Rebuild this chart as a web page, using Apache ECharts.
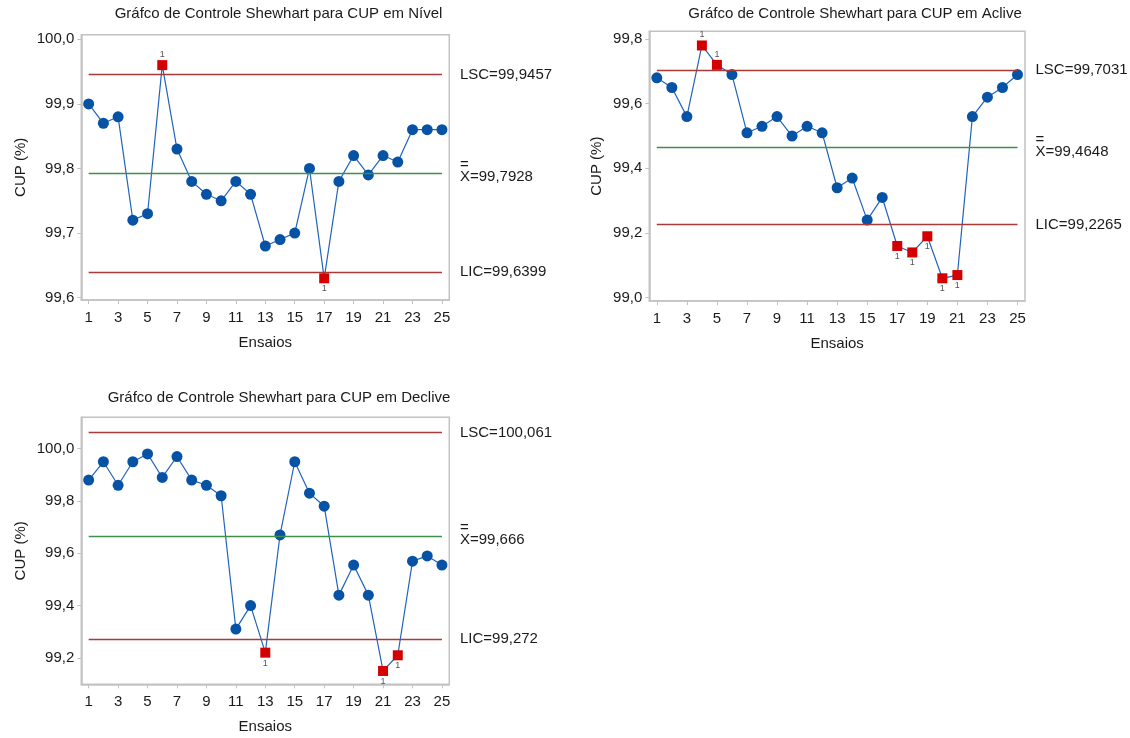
<!DOCTYPE html>
<html>
<head>
<meta charset="utf-8">
<script src="https://cdn.jsdelivr.net/npm/echarts@6/dist/echarts.min.js"></script>
<style>
  html, body { margin: 0; padding: 0; background: #fff; }
  #chart { width: 1130px; height: 738px; }
</style>
</head>
<body>
<div id="chart"></div>
<script>
// Ensaios (eixo x) e marcas exibidas
const ensaios = [1, 2, 3, 4, 5, 6, 7, 8, 9, 10, 11, 12, 13, 14, 15, 16, 17, 18, 19, 20, 21, 22, 23, 24, 25];
const ticksEnsaios = [1, 3, 5, 7, 9, 11, 13, 15, 17, 19, 21, 23, 25];

// CUP (%) por ensaio, em cada condição de terreno
const cupNivel = [99.90, 99.87, 99.88, 99.72, 99.73, 99.96, 99.83, 99.78, 99.76, 99.75, 99.78, 99.76, 99.68,
                  99.69, 99.70, 99.80, 99.63, 99.78, 99.82, 99.79, 99.82, 99.81, 99.86, 99.86, 99.86];
const cupAclive = [99.68, 99.65, 99.56, 99.78, 99.72, 99.69, 99.51, 99.53, 99.56, 99.50, 99.53, 99.51, 99.34,
                   99.37, 99.24, 99.31, 99.16, 99.14, 99.19, 99.06, 99.07, 99.56, 99.62, 99.65, 99.69];
const cupDeclive = [99.88, 99.95, 99.86, 99.95, 99.98, 99.89, 99.97, 99.88, 99.86, 99.82, 99.31, 99.40, 99.22,
                    99.67, 99.95, 99.83, 99.78, 99.44, 99.555, 99.44, 99.15, 99.21, 99.57, 99.59, 99.555];

// Limites de controle: [LSC, média, LIC]
const limitesNivel = [99.9457, 99.7928, 99.6399];
const limitesAclive = [99.7031, 99.4648, 99.2265];
const limitesDeclive = [100.061, 99.666, 99.272];

// Marcas do eixo y
const ticksNivel = [99.6, 99.7, 99.8, 99.9, 100.0];
const ticksAclive = [99.0, 99.2, 99.4, 99.6, 99.8];
const ticksDeclive = [99.2, 99.4, 99.6, 99.8, 100.0];

// Títulos
const titulos = [
  'Gráfco de Controle Shewhart para CUP em Nível',
  'Gráfco de Controle Shewhart para CUP em Aclive',
  'Gráfco de Controle Shewhart para CUP em Declive'
];

const FONT = '"Liberation Sans", Arial, Helvetica, sans-serif';
const TXT = '#1a1a1a';
const FRAME = '#c2c2c2';
const RED_LINE = '#a83a3a';
const GREEN_LINE = '#3d8f4b';
const BLUE_LINE = '#2163bd';
const BLUE_DOT = '#0652a5';
const RED_DOT = '#d40000';

const virgula = (v) => String(v).replace('.', ',');

const paineis = [
  { grid: { left: 81.3, top: 34.7, width: 368, height: 265.3 }, yMin: 99.5964, yMax: 100.0071,
    ticks: ticksNivel, dados: cupNivel, limites: limitesNivel, titulo: titulos[0], tituloX: 278.5, tituloY: 14 },
  { grid: { left: 649.3, top: 31.3, width: 375.7, height: 269.7 }, yMin: 98.9898, yMax: 99.8238,
    ticks: ticksAclive, dados: cupAclive, limites: limitesAclive, titulo: titulos[1], tituloX: 855, tituloY: 14 },
  { grid: { left: 81.3, top: 417.3, width: 368, height: 267 }, yMin: 99.099, yMax: 100.120,
    ticks: ticksDeclive, dados: cupDeclive, limites: limitesDeclive, titulo: titulos[2], tituloX: 279, tituloY: 398 }
];

const grids = [], xAxes = [], yAxes = [], series = [], graphics = [];

paineis.forEach((p, i) => {
  const [lsc, media, lic] = p.limites;
  grids.push(Object.assign({ show: true, borderColor: FRAME, borderWidth: 1.5, backgroundColor: 'transparent' }, p.grid));

  xAxes.push({
    type: 'value', gridIndex: i, min: 0.5, max: 25.5,
    name: 'Ensaios', nameLocation: 'middle', nameGap: 35,
    nameTextStyle: { fontFamily: FONT, fontSize: 15, color: TXT },
    axisLine: { show: true, lineStyle: { color: FRAME, width: 1.5 } },
    axisTick: { show: true, length: 4, lineStyle: { color: FRAME, width: 1 }, customValues: ticksEnsaios },
    axisLabel: { fontFamily: FONT, fontSize: 15, color: TXT, margin: 10, customValues: ticksEnsaios },
    splitLine: { show: false }
  });

  yAxes.push({
    type: 'value', gridIndex: i, min: p.yMin, max: p.yMax,
    name: 'CUP (%)', nameLocation: 'middle', nameGap: i === 1 ? 45 : 53, nameRotate: 90,
    nameTextStyle: { fontFamily: FONT, fontSize: 15, color: TXT },
    axisLine: { show: true, lineStyle: { color: FRAME, width: 1.5 } },
    axisTick: { show: true, length: 4, lineStyle: { color: FRAME, width: 1 }, customValues: p.ticks },
    axisLabel: { fontFamily: FONT, fontSize: 15, color: TXT, margin: 7, customValues: p.ticks,
                 formatter: (v) => v.toFixed(1).replace('.', ',') },
    splitLine: { show: false }
  });

  // Pontos fora dos limites recebem quadrado vermelho e a marca "1"
  const pontos = p.dados.map((v, k) => {
    const acima = v > lsc, abaixo = v < lic;
    if (acima || abaixo) {
      return {
        value: [ensaios[k], v], symbol: 'rect', symbolSize: 10,
        itemStyle: { color: RED_DOT },
        label: { show: true, formatter: '1', position: acima ? 'top' : 'bottom', distance: 1,
                 fontFamily: FONT, fontSize: 9, color: '#555' }
      };
    }
    return { value: [ensaios[k], v] };
  });

  const linhaLimite = (valor, cor, texto, rico) => [
    { coord: [ensaios[0], valor], lineStyle: { color: cor, width: 1.3, type: 'solid' },
      label: Object.assign({ show: true, position: 'end', distance: 18, formatter: texto,
                             fontFamily: FONT, fontSize: 15, color: TXT }, rico ? { rich: rico } : {}) },
    { coord: [ensaios[ensaios.length - 1], valor] }
  ];

  series.push({
    type: 'line', xAxisIndex: i, yAxisIndex: i, data: pontos,
    symbol: 'circle', symbolSize: 11,
    itemStyle: { color: BLUE_DOT },
    lineStyle: { color: BLUE_LINE, width: 1.2 },
    emphasis: { disabled: true },
    animation: false, z: 3,
    markLine: {
      silent: true, symbol: ['none', 'none'], animation: false,
      data: [
        linhaLimite(lsc, RED_LINE, 'LSC=' + virgula(lsc)),
        linhaLimite(media, GREEN_LINE, '{o|=}\n{t|X=' + virgula(media) + '}', {
          o: { fontFamily: FONT, fontSize: 15, lineHeight: 8, color: TXT },
          t: { fontFamily: FONT, fontSize: 15, lineHeight: 16, color: TXT }
        }),
        linhaLimite(lic, RED_LINE, 'LIC=' + virgula(lic))
      ]
    }
  });

  graphics.push({
    type: 'text', x: p.tituloX, y: p.tituloY, silent: true,
    style: { text: p.titulo, fontFamily: FONT, fontSize: 15, fill: TXT, align: 'center', verticalAlign: 'middle' }
  });
});

const chart = echarts.init(document.getElementById('chart'), null, { renderer: 'canvas' });
chart.setOption({
  backgroundColor: '#ffffff',
  animation: false,
  grid: grids,
  xAxis: xAxes,
  yAxis: yAxes,
  series: series,
  graphic: graphics
});
</script>
</body>
</html>
